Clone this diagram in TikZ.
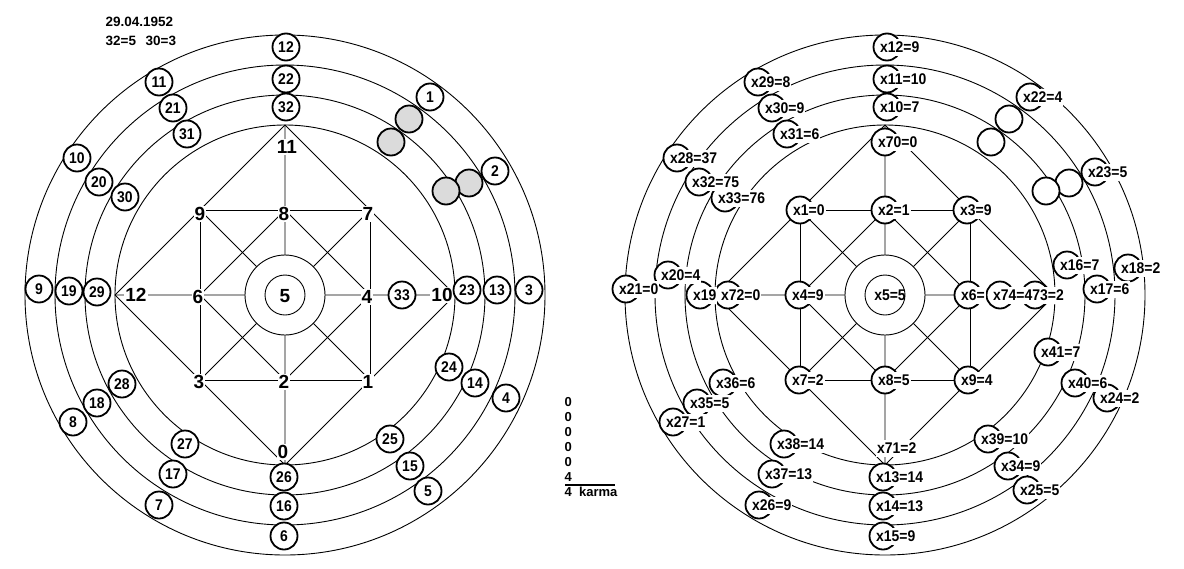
\documentclass[tikz,border=0pt]{standalone}
\usepackage{fontspec}
\setmainfont{Liberation Sans}
\newfontfamily\nfont[FakeStretch=0.9]{Liberation Sans}
\begin{document}
\begin{tikzpicture}[x=1pt,y=-1pt]
\tikzset{
 ring/.style={line width=0.9pt},
 gl/.style={line width=0.9pt},
 big/.style={fill=white, inner sep=1pt, font=\fontsize{19}{20}\selectfont\bfseries},
 cn/.style={circle, draw, fill=white, line width=1.8pt, minimum size=27pt, inner sep=0pt, font=\nfont\fontsize{15.5}{16}\selectfont\bfseries},
 gc/.style={cn, fill=black!14},
 tx/.style={anchor=west, fill=white, inner xsep=1pt, inner ysep=2.5pt, text height=11pt, text depth=1pt, font=\nfont\fontsize{15.5}{16}\selectfont\bfseries},
 sm/.style={anchor=west, inner sep=0.5pt, font=\fontsize{13}{14}\selectfont\bfseries},
 hd/.style={anchor=west, inner sep=0.5pt, font=\fontsize{13.5}{14}\selectfont\bfseries},
}
\fill[white] (0,0) rectangle (1184,568);
\useasboundingbox (0,0) rectangle (1184,568);

% geometry of both wheels
\foreach \cx/\p in {285/A,885/B}{
  \coordinate (\p-c) at (\cx,295);
  \coordinate (\p-T) at (\cx,125);
  \coordinate (\p-B) at (\cx,465);
  \coordinate (\p-L) at ({\cx-170},295);
  \coordinate (\p-R) at ({\cx+170},295);
  \coordinate (\p-tl) at ({\cx-85},210);
  \coordinate (\p-tr) at ({\cx+85},210);
  \coordinate (\p-bl) at ({\cx-85},380);
  \coordinate (\p-br) at ({\cx+85},380);
  \coordinate (\p-tm) at (\cx,210);
  \coordinate (\p-bm) at (\cx,380);
  \coordinate (\p-ml) at ({\cx-85},295);
  \coordinate (\p-mr) at ({\cx+85},295);
}
\foreach \p in {A,B}{
  \foreach \r in {260,230,200,170}{\draw[ring] (\p-c) circle[radius=\r pt];}
  \draw[gl] (\p-T)--(\p-L)--(\p-B)--(\p-R)--cycle;
  \draw[gl] (\p-tl)--(\p-tr)--(\p-br)--(\p-bl)--cycle;
  \draw[gl] (\p-tm)--(\p-ml)--(\p-bm)--(\p-mr)--cycle;
  \draw[gl] (\p-T)--(\p-B) (\p-L)--(\p-R) (\p-tl)--(\p-br) (\p-tr)--(\p-bl);
  \draw[gl, fill=white] (\p-c) circle[radius=40pt];
  \draw[gl] (\p-c) circle[radius=20pt];
}

% left wheel labels
\node[big] (g11) at (287,147) {11};
\node[big] (g9) at (200,214) {9};
\node[big] (g8) at (284,214) {8};
\node[big] (g7) at (368,214) {7};
\node[big] (g12) at (136,295) {12};
\node[big] (g6) at (198,297) {6};
\node[big, fill=none] (g5) at (285,296) {5};
\node[big] (g4) at (367,297) {4};
\node[big] (g10) at (442,295) {10};
\node[big] (g3) at (199,382) {3};
\node[big] (g2) at (284,382) {2};
\node[big] (g1) at (368,382) {1};
\node[big] (g0) at (283,452) {0};

% left wheel circles
\foreach \n/\x/\y in {12/286/47,22/286/79,32/286/107,11/159/82,21/173/108,31/187/134,
  10/77/158,20/99/182,30/125/197,1/430/97,2/495/171,9/39/289,19/69/291,29/97/292,
  28/122/384,33/402/295,23/467/290,13/497/290,3/529/290,24/449/367,14/475/383,
  4/506/398,18/97/403,8/73/422,27/185/444,17/173/474,7/159/505,26/284/477,
  16/284/506,6/284/536,25/390/439,15/410/466,5/428/491}{
  \node[cn] (l\n) at (\x,\y) {\n};
}
\node[gc] (ga) at (409,119) {};
\node[gc] (gb) at (391,142) {};
\node[gc] (gc) at (469,183) {};
\node[gc] (gd) at (446,191) {};

% header
\node[hd] (date) at (105,22) {29.04.1952};
\node[hd] (h1) at (105,41) {32=5};
\node[hd] (h2) at (145,41) {30=3};

% karma column
\foreach \i/\y/\t in {1/402/0,2/417/0,3/432/0,4/447/0,5/462/0,6/477/4}{
  \node[sm] (k\i) at (564,\y) {\t};
}
\node[sm] (k7) at (564,492) {4\ \ karma};
\coordinate (ka) at (565,485);
\coordinate (kb) at (615,485);
\draw[line width=1.2pt] (ka)--(kb);

% right wheel
\def\rlist{12/887/47/x12=9, 11/887/79/x11=10, 10/887/107/x10=7, 70/885/142/x70=0,
 29/758/82/x29=8, 30/772/108/x30=9, 31/787/134/x31=6, 28/677/158/x28=37,
 32/699/182/x32=75, 33/725/198/x33=76, 22/1030/97/x22=4, 23/1095/172/x23=5,
 21/626/289/x21=0, 20/668/275/x20=4, 19/700/295/x19, 72/728/295/x72=0,
 1/800/210/x1=0, 2/885/210/x2=1, 3/967/210/x3=9, 4/799/295/x4=9,
 6/968/295/x6=, 74/1000/295/x74=473=2, 7/799/380/x7=2, 8/885/380/x8=5,
 9/968/380/x9=4, 16/1067/265/x16=7, 17/1097/289/x17=6, 18/1128/268/x18=2,
 41/1048/352/x41=7, 40/1075/383/x40=6, 24/1107/398/x24=2, 39/988/439/x39=10,
 34/1008/466/x34=9, 25/1027/490/x25=5, 13/883/477/x13=14, 14/883/506/x14=13,
 15/883/536/x15=9, 38/784/444/x38=14, 37/772/474/x37=13, 26/759/505/x26=9,
 27/673/422/x27=1, 35/697/403/x35=5, 36/723/383/x36=6}
\foreach \n/\x/\y/\t in \rlist{ \node[cn] (rc\n) at (\x,\y) {}; }
\node[cn] (rc73) at (1035,295) {};
\node[cn] (ea) at (1009,119) {};
\node[cn] (eb) at (991,142) {};
\node[cn] (ec) at (1069,183) {};
\node[cn] (ed) at (1046,191) {};
\foreach \n/\x/\y/\t in \rlist{ \node[tx] (r\n) at ({\x-8},\y) {\t}; }
\node[tx, anchor=center, fill=none] (r5) at (890,295) {x5=5};
\node[tx] (r71) at (876,448) {x71=2};
\end{tikzpicture}
\end{document}
